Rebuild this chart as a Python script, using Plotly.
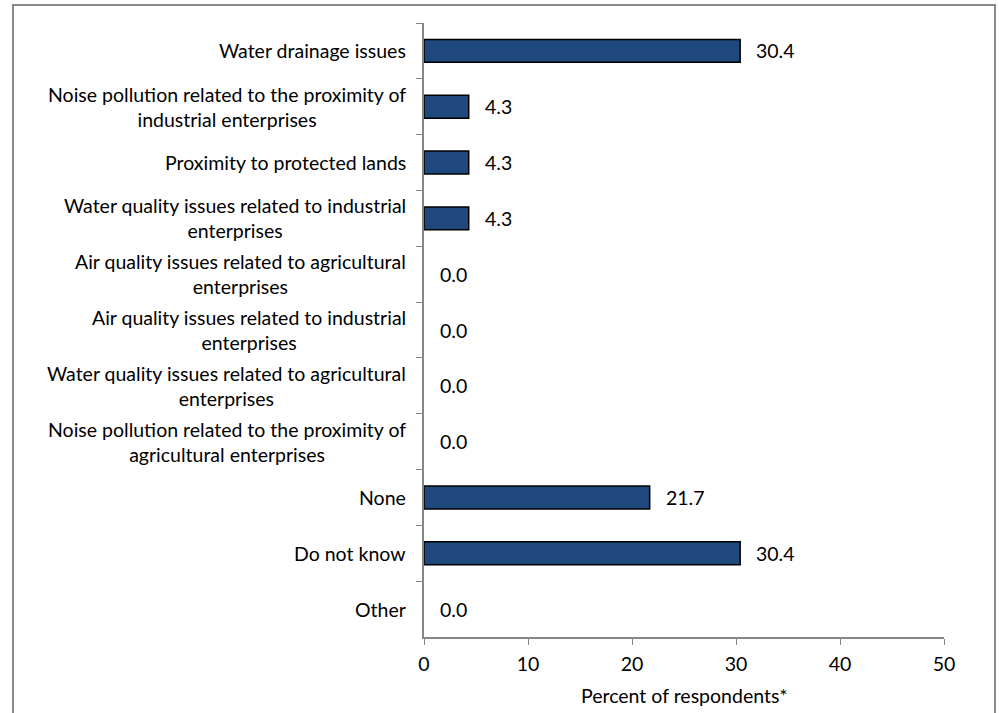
import plotly.graph_objects as go

categories = [
    "Water drainage issues",
    "Noise pollution related to the proximity of<br>industrial enterprises",
    "Proximity to protected lands",
    "Water quality issues related to industrial<br>enterprises",
    "Air quality issues related to agricultural<br>enterprises",
    "Air quality issues related to industrial<br>enterprises",
    "Water quality issues related to agricultural<br>enterprises",
    "Noise pollution related to the proximity of<br>agricultural enterprises",
    "None",
    "Do not know",
    "Other",
]
values = [30.4, 4.3, 4.3, 4.3, 0.0, 0.0, 0.0, 0.0, 21.7, 30.4, 0.0]
x_ticks = [0, 10, 20, 30, 40, 50]
x_title = "Percent of respondents*"

FONT = "Lato"
FS = 19.5
W, H = 999, 713
L, R, T, B = 424, 55, 23, 76
pw = W - L - R
ph = H - T - B

fig = go.Figure()
fig.add_trace(go.Bar(
    x=values, y=categories, orientation="h",
    marker=dict(color="#1F497D",
                line=dict(color="black", width=[1.5 if v > 0 else 0 for v in values])),
    width=0.41, hoverinfo="skip",
))

annotations = []
for c, v in zip(categories, values):
    annotations.append(dict(
        x=-16 / pw, xref="paper", y=c, yref="y", text=c, showarrow=False,
        xanchor="right", align="center", yanchor="middle",
        font=dict(family=FONT, size=FS, color="black"),
    ))
    annotations.append(dict(
        x=v, xref="x", y=c, yref="y", text=f"{v:.1f}", showarrow=False,
        xanchor="left", xshift=14, yanchor="middle",
        font=dict(family=FONT, size=FS, color="black"),
    ))
annotations.append(dict(
    x=0.5, xref="paper", y=-45 / ph, yref="paper", text=x_title, showarrow=False,
    xanchor="center", yanchor="top", font=dict(family=FONT, size=FS, color="black"),
))

fig.update_layout(
    width=W, height=H,
    margin=dict(l=L, r=R, t=T, b=B),
    paper_bgcolor="white", plot_bgcolor="white",
    showlegend=False,
    annotations=annotations,
    shapes=[dict(
        type="rect", xref="paper", yref="paper",
        x0=(13 - L) / pw, x1=(995 - L) / pw,
        y0=-0.3, y1=(H - B - 5) / ph,
        line=dict(color="#888888", width=2), layer="below",
    )],
)
fig.update_xaxes(
    range=[0, 50], tickvals=x_ticks, showgrid=False, zeroline=False,
    showline=True, linecolor="#868686", linewidth=1.5,
    ticks="outside", ticklen=6, tickcolor="#868686",
    ticklabelstandoff=3,
    tickfont=dict(family=FONT, size=FS, color="black"),
)
fig.update_yaxes(
    categoryorder="array", categoryarray=categories, autorange="reversed",
    showticklabels=False, showgrid=False, zeroline=False,
    showline=True, linecolor="#868686", linewidth=1.5,
    ticks="outside", ticklen=6, tickcolor="#868686", tickson="boundaries",
)

fig.write_html("out.html", config={"displayModeBar": False},
               post_script="document.body.style.margin='0';")
